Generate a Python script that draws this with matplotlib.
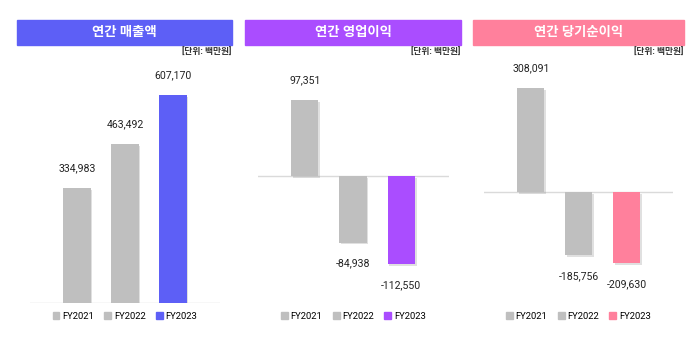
import matplotlib
matplotlib.use('Agg')
from matplotlib import pyplot as plt
from matplotlib.patches import Rectangle, Patch
import matplotlib.patheffects as pe

plt.rcParams['font.family'] = ['Roboto', 'Noto Sans CJK KR', 'DejaVu Sans']

years = ['FY2021', 'FY2022', 'FY2023']
titles = ['연간 매출액', '연간 영업이익', '연간 당기순이익']
unit_text = '[단위: 백만원]'
revenue = [334983, 463492, 607170]
op_profit = [97351, -84938, -112550]
net_profit = [308091, -185756, -209630]
values = [revenue, op_profit, net_profit]
accents = ['#5D5FF6', '#AA4DFF', '#FF809C']
gray = '#BFBFBF'

W, H = 700, 345
fig = plt.figure(figsize=(7, 3.45), dpi=100)

# per panel pixel layout: axis left/right, first bar center, spacing,
# zero line y, units per pixel, title bar left/right
panels = [
    (30, 220, 77.0, 48.0, 302.7, 2923, 17, 232),
    (258, 449, 304.7, 48.3, 176.3, 1278, 245, 461),
    (484, 673, 530.8, 47.9, 192.3, 2950, 473, 684),
]
top_px, bot_px = 60, 302.7

shadow = [pe.SimplePatchShadow(offset=(1.2, -1.2), shadow_rgbFace='#999999', alpha=0.3), pe.Normal()]

for i, (L, R, c0, sp, zero_y, upp, tL, tR) in enumerate(panels):
    ax = fig.add_axes([L / W, 1 - bot_px / H, (R - L) / W, (bot_px - top_px) / H])
    ax.set_xlim(-(c0 - L) / sp, 2 + (R - (c0 + 2 * sp)) / sp)
    ax.set_ylim(-(bot_px - zero_y) * upp, (zero_y - top_px) * upp)
    ax.axis('off')
    ax.axhline(0, color='#DADADA', lw=1, zorder=1)

    vals = values[i]
    colors = [gray, gray, accents[i]]
    bars = ax.bar(range(3), vals, width=27.4 / sp, color=colors, zorder=2)
    for b in bars:
        b.set_path_effects(shadow)
    for x, v in enumerate(vals):
        off = 14 if v > 0 else -15
        ax.annotate(f'{v:,}', (x, v), xytext=(0, off), textcoords='offset points',
                    ha='center', va='center', fontsize=7.6, color='#222222')

    # title bar
    fig.patches.append(Rectangle((tL / W, 1 - 44.5 / H), (tR - tL) / W, 24.5 / H,
                                 transform=fig.transFigure, color=accents[i], zorder=0))
    fig.text((tL + tR) / 2 / W, 1 - 32.5 / H, titles[i], color='white', fontsize=9.6,
             fontweight='bold', ha='center', va='center')
    fig.text((tR - 1) / W, 1 - 52 / H, unit_text, fontsize=6.3, color='#333333',
             ha='right', va='center', fontweight='bold')

    handles = [Patch(color=c) for c in colors]
    fig.legend(handles, years, loc='center', ncol=3, frameon=False, fontsize=6.8,
               bbox_to_anchor=((L + R) / 2 / W, 1 - 316.5 / H),
               handlelength=0.7, handleheight=0.7, handletextpad=0.3, columnspacing=1.1)

plt.savefig('out.png')
